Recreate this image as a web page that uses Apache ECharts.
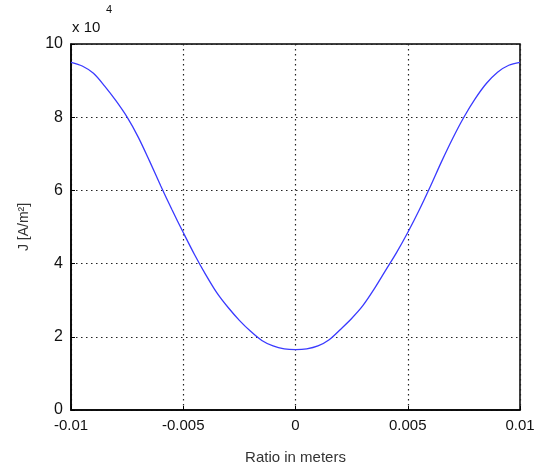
<!DOCTYPE html>
<html><head><meta charset="utf-8">
<script src="https://cdn.jsdelivr.net/npm/echarts@6/dist/echarts.min.js"></script>
<style>html,body{margin:0;padding:0;background:#fff}#c{width:538px;height:471px}</style>
</head><body><div id="c"></div>
<script>
const xValues = [-0.01,-0.0095,-0.009,-0.0085,-0.008,-0.0075,-0.007,-0.0065,-0.006,-0.0055,-0.005,-0.0045,-0.004,-0.0035,-0.003,-0.0025,-0.002,-0.0015,-0.001,-0.0005,0,0.0005,0.001,0.0015,0.002,0.0025,0.003,0.0035,0.004,0.0045,0.005,0.0055,0.006,0.0065,0.007,0.0075,0.008,0.0085,0.009,0.0095,0.01];
const jValues = [9.5,9.4,9.2,8.85,8.45,8.0,7.45,6.8,6.12,5.47,4.85,4.25,3.7,3.2,2.8,2.45,2.15,1.9,1.75,1.67,1.65,1.67,1.75,1.92,2.2,2.5,2.85,3.3,3.8,4.3,4.85,5.45,6.1,6.78,7.42,8.0,8.5,8.92,9.23,9.42,9.5];
const xTickLabels = {"-0.01":"-0.01","-0.005":"-0.005","0":"0","0.005":"0.005","0.01":"0.01"};
const yTicks = [0,2,4,6,8,10];

const chart = echarts.init(document.getElementById('c'));
const font = 'Liberation Sans';
chart.setOption({
  animation:false,
  grid:{left:71,right:18,top:44,bottom:61,show:true,borderColor:'#000',borderWidth:1.5,backgroundColor:'#fff'},
  xAxis:{type:'value',min:-0.01,max:0.01,interval:0.005,
    name:'Ratio in meters',nameLocation:'middle',nameGap:40,
    nameTextStyle:{color:'#333',fontFamily:font,fontSize:15},
    axisLine:{show:true,onZero:false,lineStyle:{color:'#000',width:1.5}},
    axisTick:{show:true,inside:true,length:4,lineStyle:{color:'#000'}},
    axisLabel:{color:'#111',fontFamily:font,fontSize:15,margin:8,
      formatter:v=>{const k=String(Math.round(v*1000)/1000);return xTickLabels[k]!==undefined?xTickLabels[k]:k;}},
    splitLine:{show:true,lineStyle:{color:'#222',type:[1.5,3.5],width:1.2}}},
  yAxis:{type:'value',min:0,max:10,interval:2,
    name:'J [A/m²]',nameLocation:'middle',nameGap:40,
    nameTextStyle:{color:'#333',fontFamily:font,fontSize:14},
    axisLine:{show:true,onZero:false,lineStyle:{color:'#000',width:1.5}},
    axisTick:{show:true,inside:true,length:4,lineStyle:{color:'#000'}},
    axisLabel:{color:'#111',fontFamily:font,fontSize:16,margin:8,
      formatter:v=>yTicks.indexOf(v)>=0?String(v):''},
    splitLine:{show:true,lineStyle:{color:'#222',type:[1.5,3.5],width:1.2}}},
  graphic:[
    {type:'text',left:72,top:20,style:{text:'x 10',fontFamily:font,fontSize:15,fill:'#111'}},
    {type:'text',left:106,top:4,style:{text:'4',fontFamily:font,fontSize:11,fill:'#111'}}
  ],
  series:[{type:'line',data:xValues.map((x,i)=>[x,jValues[i]]),smooth:0.3,showSymbol:false,
    lineStyle:{color:'#3a3aff',width:1.3}}]
});
</script></body></html>
